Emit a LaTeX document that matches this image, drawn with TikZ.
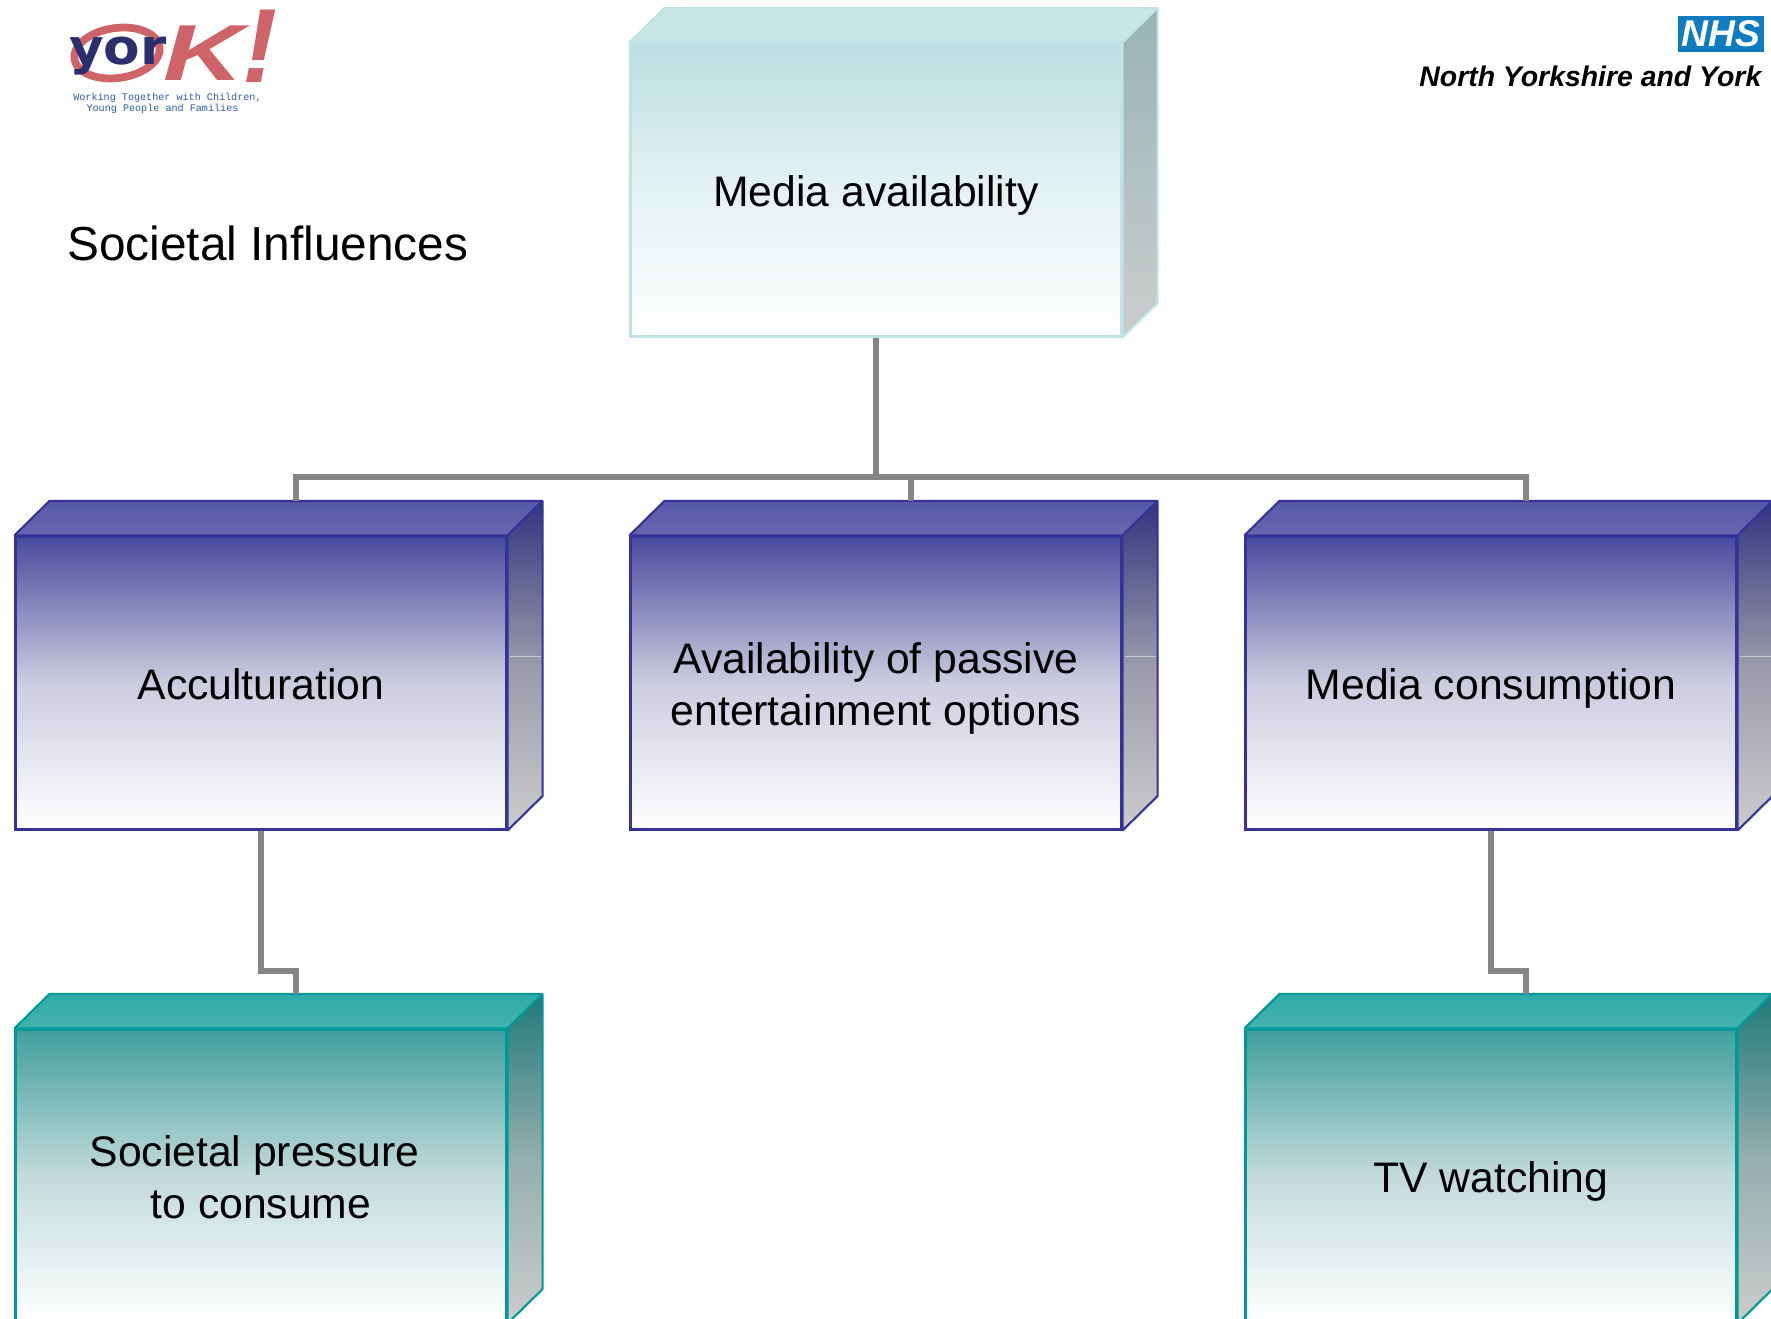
\documentclass[tikz,border=0pt]{standalone}
\usepackage{fontspec}
\setmainfont{Liberation Sans}
\newfontfamily\capfont{Liberation Mono}
\newfontfamily\yorfont{DejaVu Sans}
\newcommand{\tallline}{\rule{0pt}{12.8pt}}
\definecolor{linkgray}{HTML}{858585}
\definecolor{nhsblue}{HTML}{0F7CC0}
\definecolor{yorkred}{HTML}{CF6468}
\definecolor{yorknavy}{HTML}{2B2F6E}
\definecolor{capblue}{HTML}{2A5CA8}
\definecolor{rank 1 edge}{HTML}{BFE3E6}
\definecolor{rank 1 high}{HTML}{BBDFE1}
\definecolor{rank 1 mid}{HTML}{E4F2F3}
\definecolor{rank 1 cap}{HTML}{C8E6E8}
\definecolor{rank 1 dark}{HTML}{97B2B4}
\definecolor{rank 1 grey}{HTML}{B2C1C2}
\definecolor{rank 2 edge}{HTML}{333399}
\definecolor{rank 2 high}{HTML}{4A4A9E}
\definecolor{rank 2 mid}{HTML}{CCCCDF}
\definecolor{rank 2 cap}{HTML}{5858AA}
\definecolor{rank 2 capb}{HTML}{6868B0}
\definecolor{rank 2 dark}{HTML}{33337F}
\definecolor{rank 2 grey}{HTML}{9A9AAB}
\definecolor{rank 3 edge}{HTML}{009999}
\definecolor{rank 3 high}{HTML}{409E9E}
\definecolor{rank 3 mid}{HTML}{C3DADA}
\definecolor{rank 3 cap}{HTML}{2EABA9}
\definecolor{rank 3 capb}{HTML}{45B1B0}
\definecolor{rank 3 dark}{HTML}{1F7A7A}
\definecolor{rank 3 grey}{HTML}{96AEAE}
\definecolor{side end}{HTML}{CCCCCC}
\tikzset{
  basic/.style  = {rectangle, inner sep=0pt, minimum width=4.91cm, minimum height=2.93cm,
                   align=center, line width=.6pt, font=\fontsize{12.15}{14.8}\selectfont,
                   execute at begin node={\rule{0pt}{13pt}},
                   execute at end node={\rule[-3.4pt]{0pt}{3.4pt}}},
  rank 1/.style = {basic, draw=rank 1 edge, top color=rank 1 high, bottom color=white, middle color=rank 1 mid},
  rank 2/.style = {basic, draw=rank 2 edge, top color=rank 2 high, bottom color=white, middle color=rank 2 mid},
  rank 3/.style = {basic, draw=rank 3 edge, top color=rank 3 high, bottom color=white, middle color=rank 3 mid},
  face/.style = {line width=.6pt, line join=bevel},
  rank 1 top/.style  = {face, draw=rank 1 edge, fill=rank 1 cap},
  rank 2 top/.style  = {face, draw=rank 2 edge, top color=rank 2 cap, bottom color=rank 2 capb},
  rank 3 top/.style  = {face, draw=rank 3 edge, top color=rank 3 cap, bottom color=rank 3 capb},
  rank 1 side/.style = {face, draw=rank 1 edge, top color=rank 1 dark, bottom color=side end, middle color=rank 1 grey},
  rank 2 side/.style = {face, draw=rank 2 edge, top color=rank 2 dark, bottom color=side end, middle color=rank 2 grey},
  rank 3 side/.style = {face, draw=rank 3 edge, top color=rank 3 dark, bottom color=side end, middle color=rank 3 grey},
  link/.style = {draw=linkgray, line width=1.85pt}
}

\begin{document}
\begin{tikzpicture}[node distance=4.93cm]

\clip (0,0) rectangle (17.71,-13.19);

% The boxes, relatively positioned from the top one
\node[rank 1] (m) at (8.76,-1.9) {Media availability};

\begin{scope}[every node/.style={rank 2}]
\node [below of = m] (m2) {\tallline Availability of passive\\entertainment options};
\node [below of = m, xshift=-6.15cm] (m1) {Acculturation};
\node [below of = m, xshift=6.15cm] (m3) {Media consumption};
\end{scope}

\begin{scope}[every node/.style={rank 3}]
\node [below of = m1] (m11) {\tallline Societal pressure\kern.13cm\\to consume};
\node [below of = m3] (m31) {TV watching};
\end{scope}

% The top and side faces of each box
\foreach \name/\rank in {m/1,m1/2,m2/2,m3/2,m11/3,m31/3} {
  \coordinate (\name b) at ([xshift=.35cm,yshift=.345cm]\name.north east);
  \coordinate (\name t) at ([xshift=.35cm,yshift=.345cm]\name.north);
  \draw[rank \rank\space top] (\name.north west) -- ([xshift=.35cm,yshift=.345cm]\name.north west)
    -- (\name b) -- (\name.north east) -- cycle;
  \draw[rank \rank\space side] (\name.north east) -- (\name b)
    -- ([xshift=.35cm,yshift=.345cm]\name.south east) -- (\name.south east) -- cycle;
}

\foreach \name in {m1,m2,m3}
  \draw[white!60!gray, line width=.25pt] ([xshift=.02cm,yshift=.265cm]\name.east) -- ++(.31,0);

% The connectors
\coordinate (bus) at (0,-4.77);
\draw[link] (m.south) -- (m.south |- bus);
\draw[link] (m1t) -- (m1t |- bus) -- (m3t |- bus) -- (m3t);
\draw[link] (m2t) -- (m2t |- bus);
\coordinate (bend) at (0,-9.71);
\draw[link] (m1.south) -- (m1.south |- bend) -- (m11t |- bend) -- (m11t);
\draw[link] (m3.south) -- (m3.south |- bend) -- (m31t |- bend) -- (m31t);

% Title
\node[anchor=west, inner sep=0pt, font=\fontsize{13.6}{16}\selectfont] (title) at (.665,-2.43) {Societal Influences};

% York logo
\draw[yorkred, line width=2.2pt, rotate around={8:(1.17,-.53)}] (1.17,-.53) ellipse (.43cm and .25cm);
\node[inner sep=0pt, text=yorknavy, anchor=base, xscale=1.08, font=\yorfont\fontsize{14}{14}\selectfont\bfseries] (yor) at (1.18,-.65) {yor};
\node[inner sep=0pt, text=yorkred, anchor=base west, xscale=1.4, font=\fontsize{22.6}{23}\selectfont\bfseries\itshape] (k) at (1.63,-.8) {K};
\node[inner sep=0pt, text=yorkred, font=\fontsize{30}{30}\selectfont\bfseries\itshape] (bang) at (2.6,-.46) {!};
\node[inner sep=0pt, text=capblue, font=\capfont\fontsize{2.88}{3}\selectfont] (cap1) at (1.675,-.98) {Working Together with Children,};
\node[inner sep=0pt, text=capblue, font=\capfont\fontsize{2.88}{3}\selectfont] (cap2) at (1.625,-1.09) {Young People and Families};

% NHS logo
\node[fill=nhsblue, inner sep=0pt, minimum width=.86cm, minimum height=.36cm, text=white,
  font=\fontsize{10.6}{11}\selectfont\bfseries\itshape] (nhs) at (17.21,-.34) {NHS};
\node[anchor=east, inner sep=0pt, font=\fontsize{8.08}{10}\selectfont\bfseries\itshape] (trust) at (17.62,-.76) {North Yorkshire and York};

\end{tikzpicture}
\end{document}
